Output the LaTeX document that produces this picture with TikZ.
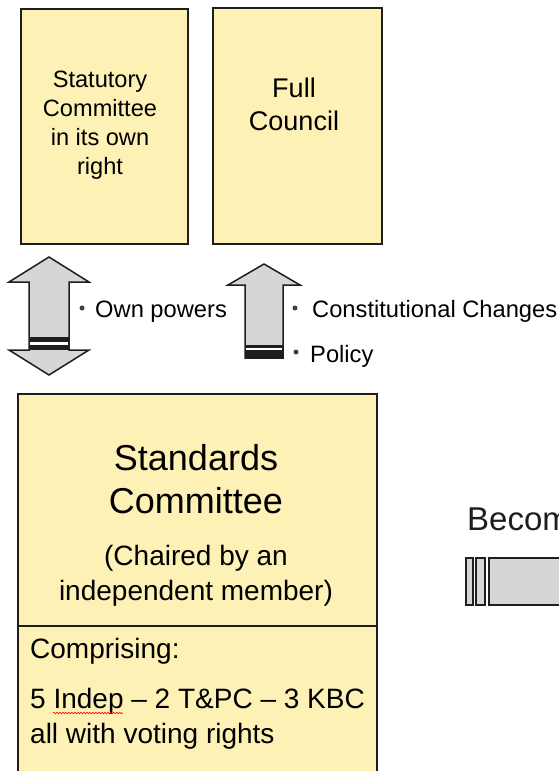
\documentclass[tikz,border=0pt]{standalone}
\usepackage{fontspec}
\setmainfont{Liberation Sans}
\usetikzlibrary{decorations.pathmorphing}
\definecolor{paleyellow}{HTML}{FDF1B6}
\definecolor{arrowgrey}{HTML}{D6D6D6}
\definecolor{inkdark}{HTML}{1E1E1E}

\begin{document}
\begin{tikzpicture}[x=1pt, y=-1pt, line join=miter,
	panel/.style={draw=inkdark, line width=1.7pt, fill=paleyellow, inner sep=0pt, anchor=north west},
	blockarrow/.style={draw=inkdark, line width=1.5pt, fill=arrowgrey},
	txt/.style={anchor=base, inner sep=0pt, text=black},
	dot/.style={circle, fill=inkdark!85, inner sep=0pt, minimum size=5pt}]
	\useasboundingbox (0,0) rectangle (559,771);
	\clip (0,0) rectangle (559,771);

	\node[panel, minimum width=167pt, minimum height=235pt] (statbox) at (20,8) {};
	\node[panel, minimum width=169pt, minimum height=236pt] (fullbox) at (212,7) {};
	\node[panel, minimum width=359pt, minimum height=232pt] (stdtop) at (17,393) {};
	\node[panel, minimum width=359pt, minimum height=185pt] (stdlow) at (17,625) {};

	\foreach \t [count=\i] in {Statutory,Committee,in its own,right}
		\node[txt, font=\fontsize{23.6}{28}\selectfont] (stat\i) at (100,58+29*\i) {\t};
	\node[txt, font=\fontsize{27}{33}\selectfont] (full1) at (294,97) {Full};
	\node[txt, font=\fontsize{27}{33}\selectfont] (full2) at (294,130) {Council};

	\node[txt, font=\fontsize{36}{43}\selectfont] (std1) at (196,470) {Standards};
	\node[txt, font=\fontsize{36}{43}\selectfont] (std2) at (196,513) {Committee};
	\node[txt, font=\fontsize{28}{34}\selectfont] (chair1) at (196,565) {(Chaired by an};
	\node[txt, font=\fontsize{28}{34}\selectfont] (chair2) at (196,600) {independent member)};
	\node[txt, anchor=base west, font=\fontsize{28}{34}\selectfont] (comp1) at (30,658) {Comprising:};
	\node[txt, anchor=base west, font=\fontsize{28}{34}\selectfont] (comp2) at (30,708) {5 Indep – 2 T\&PC – 3 KBC};
	\node[txt, anchor=base west, font=\fontsize{28}{34}\selectfont] (comp3) at (30,743) {all with voting rights};
	\draw[red, line width=0.6pt, decorate, decoration={snake, amplitude=0.8pt, segment length=3pt}] (53,713) -- (123,713);

	\draw[blockarrow] (49,257) -- (89,282) -- (69,282) -- (69,350) -- (89,350) -- (49,375) -- (9,350) -- (29,350) -- (29,282) -- (9,282) -- cycle;
	\fill[inkdark] (29,337) rectangle (69,350);
	\fill[white] (29.8,341.5) rectangle (68.2,344.5);
	\draw[blockarrow] (264,264) -- (300,285) -- (283,285) -- (283,358) -- (245,358) -- (245,285) -- (228,285) -- cycle;
	\fill[inkdark] (245,345) rectangle (283,358);
	\fill[white] (245.8,347.7) rectangle (282.2,350);

	\node[dot] (own dot) at (82,308) {};
	\node[txt, anchor=base west, font=\fontsize{23.7}{28}\selectfont] (own) at (95,317) {Own powers};
	\node[dot] (const dot) at (295,308) {};
	\node[txt, anchor=base west, font=\fontsize{23.7}{28}\selectfont] (const) at (312,317) {Constitutional Changes};
	\node[dot] (policy dot) at (296,352) {};
	\node[txt, anchor=base west, font=\fontsize{23.7}{28}\selectfont] (policy) at (310,362) {Policy};

	\node[txt, anchor=base west, text=inkdark, font=\fontsize{33}{40}\selectfont] (becom) at (467,530) {Becom};
	\draw[blockarrow] (466,558) rectangle (473,605);
	\draw[blockarrow] (476,558) rectangle (485,605);
	\draw[blockarrow] (489,558) rectangle (580,605);
\end{tikzpicture}
\end{document}
